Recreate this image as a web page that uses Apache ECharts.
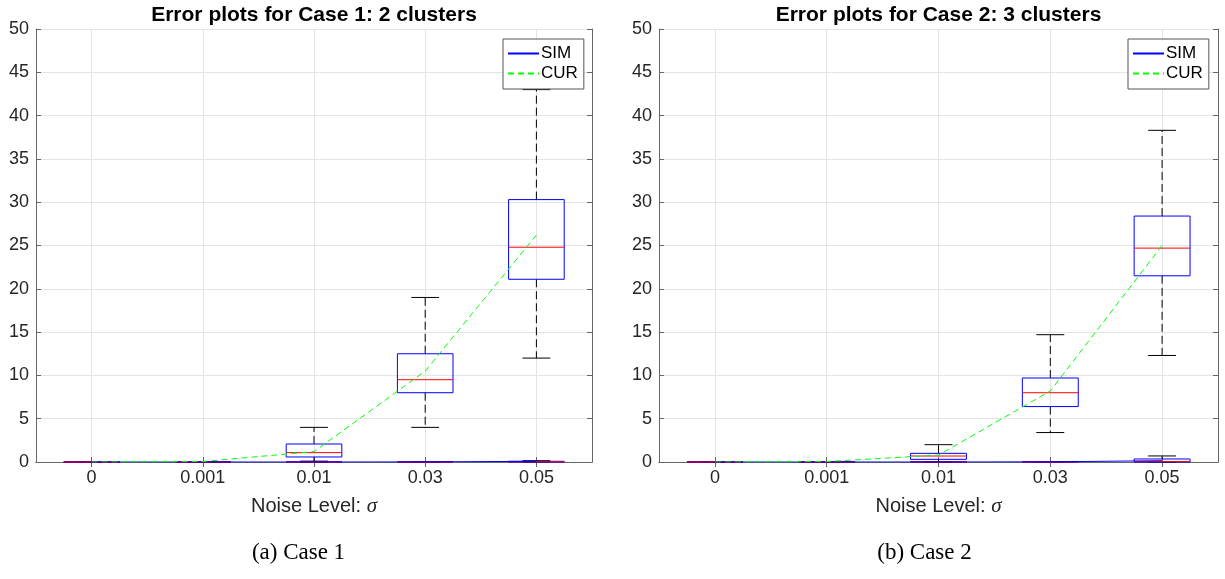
<!DOCTYPE html>
<html>
<head>
<meta charset="utf-8">
<script src="https://cdn.jsdelivr.net/npm/echarts@6/dist/echarts.min.js"></script>
<style>
html,body{margin:0;padding:0;background:#fff;}
#c{width:1225px;height:579px;}
</style>
</head>
<body>
<div id="c"></div>
<script>
// ---- data ----
const categories = ['0', '0.001', '0.01', '0.03', '0.05'];
// boxes: [min, q1, median, q3, max] per noise level
const case1CurBoxes = [[0,0,0,0,0],[0,0.01,0.02,0.03,0.05],[0.1,0.58,1.08,2.08,4.0],[4.0,8.0,9.5,12.5,19.0],[12.0,21.1,24.8,30.3,43.0]];
const case1SimBoxes = [[0,0,0,0,0],[0,0,0,0,0],[0,0,0,0,0],[0,0,0,0.01,0.02],[0,0,0.02,0.08,0.15]];
const case1SimMean = [0, 0, 0, 0.01, 0.08];
const case1CurMean = [0, 0.06, 1.2, 10.5, 26.2];

const case2CurBoxes = [[0,0,0,0,0],[0,0.01,0.02,0.03,0.05],[0.05,0.31,0.69,1.0,2.0],[3.4,6.4,8.0,9.7,14.7],[12.3,21.5,24.7,28.4,38.3]];
const case2SimBoxes = [[0,0,0,0,0],[0,0,0,0,0],[0,0,0,0,0],[0,0,0.01,0.02,0.05],[0,0,0.05,0.35,0.7]];
const case2SimMean = [0, 0, 0, 0.02, 0.15];
const case2CurMean = [0, 0.05, 0.8, 8.2, 25.0];

const titles = ['Error plots for Case 1: 2 clusters', 'Error plots for Case 2: 3 clusters'];
const captions = ['(a) Case 1', '(b) Case 2'];
const xName = 'Noise Level: {i|σ}';

// ---- chart ----
const SANS = 'Liberation Sans, Arial, Helvetica, sans-serif';
const SERIF = 'Liberation Serif, Times New Roman, serif';
const AXIS_COLOR = '#666';
const GRID_COLOR = '#e4e4e4';
const SIM_COLOR = '#0000ff';
const CUR_COLOR = '#00ff00';

function boxRender(params, api) {
  const idx = api.value(0);
  const mn = api.value(1), q1 = api.value(2), md = api.value(3), q3 = api.value(4), mx = api.value(5);
  const band = api.size([1, 0])[0];
  const hw = band * 0.25;
  const cw = band * 0.125;
  const cx = api.coord([idx, 0])[0];
  const y = v => api.coord([idx, v])[1];
  const dash = {stroke: '#000', lineWidth: 1, lineDash: [8, 4]};
  const solid = {stroke: '#000', lineWidth: 1};
  return {
    type: 'group',
    children: [
      {type: 'line', shape: {x1: cx, y1: y(q3), x2: cx, y2: y(mx)}, style: dash},
      {type: 'line', shape: {x1: cx, y1: y(q1), x2: cx, y2: y(mn)}, style: dash},
      {type: 'line', shape: {x1: cx - cw, y1: y(mx), x2: cx + cw, y2: y(mx)}, style: solid},
      {type: 'line', shape: {x1: cx - cw, y1: y(mn), x2: cx + cw, y2: y(mn)}, style: solid},
      {type: 'rect', shape: {x: cx - hw, y: y(q3), width: 2 * hw, height: y(q1) - y(q3)},
        style: {stroke: '#0000ff', fill: 'none', lineWidth: 1}},
      {type: 'line', shape: {x1: cx - hw, y1: y(md), x2: cx + hw, y2: y(md)}, style: {stroke: '#ff0000', lineWidth: 1}}
    ]
  };
}

function boxData(boxes) {
  return boxes.map((b, i) => [i].concat(b));
}

const grids = [
  {left: 36, right: 633, top: 29, bottom: 117},
  {left: 659, right: 7, top: 29, bottom: 117}
];

const xAxes = [], yAxes = [], series = [];
const cases = [
  {cur: case1CurBoxes, sim: case1SimBoxes, simMean: case1SimMean, curMean: case1CurMean},
  {cur: case2CurBoxes, sim: case2SimBoxes, simMean: case2SimMean, curMean: case2CurMean}
];

cases.forEach((c, g) => {
  xAxes.push({
    type: 'category', gridIndex: g, data: categories, position: 'bottom', boundaryGap: true,
    axisLine: {show: true, lineStyle: {color: AXIS_COLOR, width: 1}},
    axisTick: {show: true, inside: true, length: 5, alignWithLabel: true, lineStyle: {color: AXIS_COLOR}},
    axisLabel: {show: true, margin: 7, color: '#262626', fontSize: 18, fontFamily: SANS, interval: 0},
    splitLine: {show: true, alignWithLabel: true, interval: 0, lineStyle: {color: GRID_COLOR, width: 1}},
    name: xName, nameLocation: 'middle', nameGap: 34,
    nameTextStyle: {color: '#262626', fontSize: 20, fontFamily: SANS,
      rich: {i: {fontStyle: 'italic', fontFamily: SERIF, fontSize: 21, color: '#262626'}}}
  });
  xAxes.push({
    type: 'category', gridIndex: g, data: categories, position: 'top', boundaryGap: true,
    axisLine: {show: true, lineStyle: {color: AXIS_COLOR, width: 1}},
    axisTick: {show: true, inside: true, length: 5, alignWithLabel: true, lineStyle: {color: AXIS_COLOR}},
    axisLabel: {show: false}, splitLine: {show: false}
  });
  yAxes.push({
    type: 'value', gridIndex: g, min: 0, max: 50, interval: 5, position: 'left',
    axisLine: {show: true, lineStyle: {color: AXIS_COLOR, width: 1}},
    axisTick: {show: true, inside: true, length: 5, lineStyle: {color: AXIS_COLOR}},
    axisLabel: {show: true, margin: 7, color: '#262626', fontSize: 18, fontFamily: SANS},
    splitLine: {show: true, lineStyle: {color: GRID_COLOR, width: 1}}
  });
  yAxes.push({
    type: 'value', gridIndex: g, min: 0, max: 50, interval: 5, position: 'right',
    axisLine: {show: true, lineStyle: {color: AXIS_COLOR, width: 1}},
    axisTick: {show: true, inside: true, length: 5, lineStyle: {color: AXIS_COLOR}},
    axisLabel: {show: false}, splitLine: {show: false}
  });
  const xi = g * 2, yi = g * 2;
  series.push({
    type: 'custom', name: 'CURbox' + g, xAxisIndex: xi, yAxisIndex: yi,
    renderItem: boxRender, data: boxData(c.cur), encode: {x: 0, y: [1, 2, 3, 4, 5]}, z: 2
  });
  series.push({
    type: 'custom', name: 'SIMbox' + g, xAxisIndex: xi, yAxisIndex: yi,
    renderItem: boxRender, data: boxData(c.sim), encode: {x: 0, y: [1, 2, 3, 4, 5]}, z: 2
  });
  series.push({
    type: 'line', name: 'SIM', xAxisIndex: xi, yAxisIndex: yi, data: c.simMean,
    symbol: 'none', showSymbol: false, color: SIM_COLOR,
    lineStyle: {color: SIM_COLOR, width: 1, type: 'solid'}, z: 3
  });
  series.push({
    type: 'line', name: 'CUR', xAxisIndex: xi, yAxisIndex: yi, data: c.curMean,
    symbol: 'none', showSymbol: false, color: CUR_COLOR,
    lineStyle: {color: CUR_COLOR, width: 1, type: [6, 4]}, z: 4
  });
});

function legendAt(left) {
  return {
    data: ['SIM', 'CUR'],
    left: left, top: 39, orient: 'vertical',
    selectedMode: false, backgroundColor: '#fff', borderColor: '#555', borderWidth: 1,
    borderRadius: 0, padding: [6, 6, 7, 4], itemGap: 3, itemWidth: 31, itemHeight: 14,
    itemStyle: {opacity: 0, borderWidth: 0},
    textStyle: {fontSize: 17, fontFamily: SANS, color: '#000', padding: [0, 0, 0, -3]}
  };
}

const plotCenters = [314, 938.5];
const captionCenters = [298.5, 924.5];
const graphics = [];
plotCenters.forEach((cx, i) => {
  graphics.push({type: 'text', x: cx, y: 15.5,
    style: {text: titles[i], align: 'center', verticalAlign: 'middle',
      font: 'bold 21px ' + SANS, fill: '#000'}});
  graphics.push({type: 'text', x: captionCenters[i], y: 553,
    style: {text: captions[i], align: 'center', verticalAlign: 'middle',
      font: '23px ' + SERIF, fill: '#000'}});
});

const chart = echarts.init(document.getElementById('c'), null, {renderer: 'canvas'});
chart.setOption({
  animation: false,
  backgroundColor: '#fff',
  grid: grids,
  xAxis: xAxes,
  yAxis: yAxes,
  legend: [legendAt(503), legendAt(1128)],
  series: series,
  graphic: graphics
});
</script>
</body>
</html>
